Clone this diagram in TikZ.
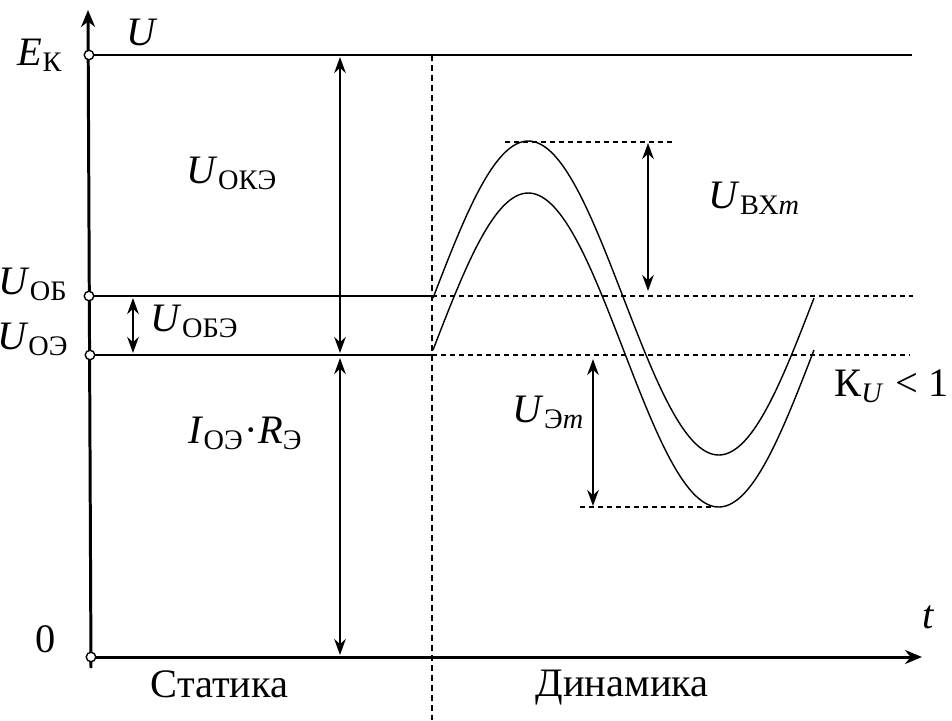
\documentclass[tikz,border=0pt]{standalone}
\usepackage{fontspec}
\setmainfont{Liberation Serif}
\usetikzlibrary{arrows.meta}

\newcommand{\lv}[2]{\textit{#1}\textsubscript{#2}}

\tikzset{
  axis/.style={line width=0.85pt,-{Stealth[length=1.7mm,width=1.4mm]}},
  dim/.style={line width=0.75pt,{Stealth[length=1.6mm,width=1.15mm]}-{Stealth[length=1.6mm,width=1.15mm]}},
  level/.style={line width=0.4pt},
  guide/.style={line width=0.35pt,dash pattern=on 0.5mm off 0.4mm},
  pin/.style={circle,draw,fill=white,inner sep=0pt,minimum size=0.95mm,line width=0.4pt},
  lbl/.style={inner sep=0pt},
}

\begin{document}
\begin{tikzpicture}[x=0.1mm,y=-0.1mm,font=\fontsize{11.5}{13}\selectfont]
  \useasboundingbox (0,0) rectangle (952,720);

  % levels on the U axis
  \coordinate (pEK) at (89,55);
  \coordinate (pOB) at (89,296);
  \coordinate (pOE) at (90,355);
  \coordinate (p0)  at (91,657);
  \coordinate (ytop) at (88,10);
  \coordinate (ybot) at (91,668);
  \coordinate (xend) at (922,657);
  \coordinate (ekEnd) at (912,55);
  \coordinate (obMid) at (432,296);
  \coordinate (obEnd) at (913,296);
  \coordinate (oeMid) at (432,355);
  \coordinate (oeEnd) at (910,355);
  \coordinate (divTop) at (432,55);
  \coordinate (divBot) at (432,720);

  \draw[axis] (ybot) -- (ytop);
  \draw[axis] (p0) -- (xend);
  \draw[level] (pEK) -- (ekEnd);
  \draw[level] (pOB) -- (obMid);
  \draw[level] (pOE) -- (oeMid);
  \draw[guide] (obMid) -- (obEnd);
  \draw[guide] (oeMid) -- (oeEnd);
  \draw[guide,dash pattern=on 0.6mm off 0.4mm] (divTop) -- (divBot);

  % input and emitter voltages
  \draw[level] plot[smooth,domain=0:360,samples=73] ({433+\x/360*381},{298-157*sin(\x)});
  \draw[level] plot[smooth,domain=0:360,samples=73] ({433+\x/360*381},{350-157*sin(\x)});
  \coordinate (pkL) at (505,142);
  \coordinate (pkR) at (674,142);
  \coordinate (trL) at (580,507);
  \coordinate (trR) at (715,507);
  \draw[guide] (pkL) -- (pkR);
  \draw[guide] (trL) -- (trR);

  % amplitudes and static drops
  \coordinate (okeT) at (340,57);
  \coordinate (okeB) at (340,353);
  \coordinate (irT) at (340,358);
  \coordinate (irB) at (340,655);
  \coordinate (obeT) at (133,298);
  \coordinate (obeB) at (133,353);
  \coordinate (bxT) at (648,143);
  \coordinate (bxB) at (648,291);
  \coordinate (emT) at (593,359);
  \coordinate (emB) at (593,506);
  \draw[dim] (okeT) -- (okeB);
  \draw[dim] (irT) -- (irB);
  \draw[dim] (obeT) -- (obeB);
  \draw[dim] (bxT) -- (bxB);
  \draw[dim] (emT) -- (emB);

  \node[pin] (ek) at (pEK) {};
  \node[pin] (ob) at (pOB) {};
  \node[pin] (oe) at (pOE) {};
  \node[pin] (zero) at (p0) {};

  % labels
  \node[lbl,anchor=base west] (uLbl) at (126,45) {\textit{U}};
  \node[lbl,anchor=base west] (tLbl) at (922,628) {\textit{t}};
  \node[lbl,anchor=base east] (ekLbl) at (64,65) {\lv{E}{К}};
  \node[lbl,anchor=base east] (obLbl) at (69,294) {\lv{U}{ОБ}};
  \node[lbl,anchor=base east] (oeLbl) at (70,349) {\lv{U}{ОЭ}};
  \node[lbl,anchor=base] (zeroLbl) at (46,652) {0};
  \node[lbl,anchor=base west] (okeLbl) at (186,183) {\lv{U}{ОКЭ}};
  \node[lbl,anchor=base west] (obeLbl) at (150,331) {\lv{U}{ОБЭ}};
  \node[lbl,anchor=base west] (irLbl) at (188,443) {\lv{I}{ОЭ}·\lv{R}{Э}};
  \node[lbl,anchor=base west] (bxLbl) at (708,208) {\lv{U}{ВХ\textit{m}}};
  \node[lbl,anchor=base west] (emLbl) at (512,422) {\lv{U}{Э\textit{m}}};
  \node[lbl,anchor=base east] (kuLbl) at (949,396) {К\textsubscript{\textit{U}} < 1};
  \node[lbl,anchor=base west] (statLbl) at (150,697) {Статика};
  \node[lbl,anchor=base west] (dynLbl) at (535,696) {Динамика};
\end{tikzpicture}
\end{document}
